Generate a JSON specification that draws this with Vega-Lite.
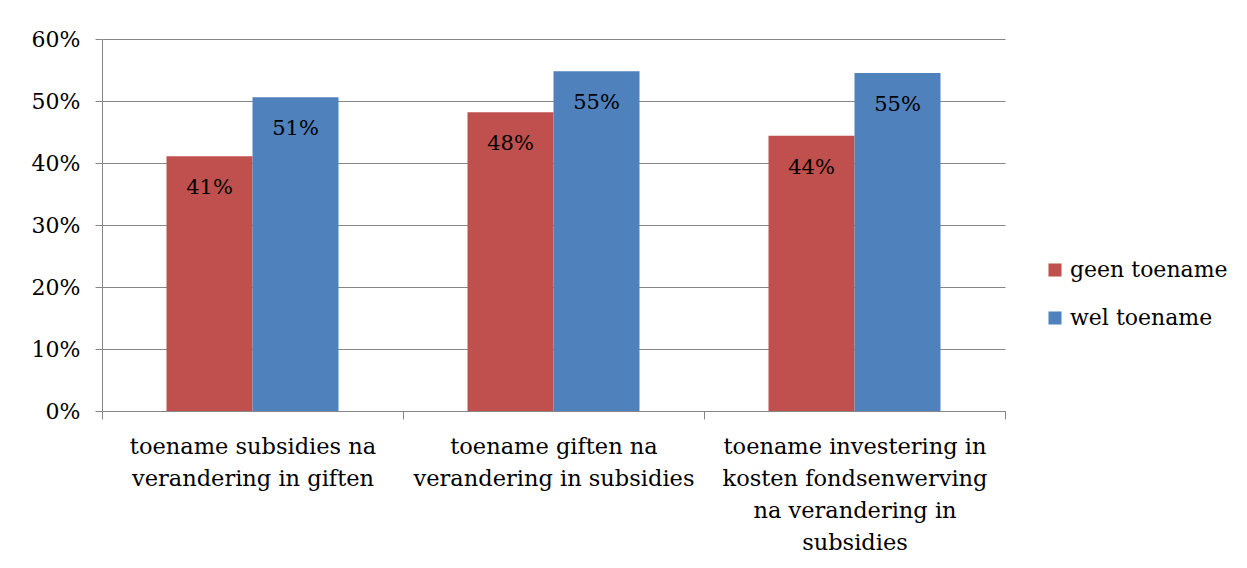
{
  "$schema": "https://vega.github.io/schema/vega-lite/v6.json",
  "width": 903,
  "height": 372,
  "autosize": {"type": "none"},
  "padding": {"left": 102, "top": 39, "right": 242, "bottom": 157},
  "background": "white",
  "config": {
    "view": {"stroke": null},
    "font": "DejaVu Serif"
  },
  "data": {
    "values": [
      {"category": "toename subsidies na|verandering in giften", "series": "geen toename", "value": 0.411},
      {"category": "toename subsidies na|verandering in giften", "series": "wel toename", "value": 0.506},
      {"category": "toename giften na|verandering in subsidies", "series": "geen toename", "value": 0.482},
      {"category": "toename giften na|verandering in subsidies", "series": "wel toename", "value": 0.548},
      {"category": "toename investering in|kosten fondsenwerving|na verandering in|subsidies", "series": "geen toename", "value": 0.444},
      {"category": "toename investering in|kosten fondsenwerving|na verandering in|subsidies", "series": "wel toename", "value": 0.545}
    ]
  },
  "encoding": {
    "x": {
      "field": "category", "type": "nominal", "sort": null,
      "scale": {"paddingInner": 0, "paddingOuter": 0},
      "axis": {
        "title": null, "labelAngle": 0,
        "labelExpr": "datum.value ? split(datum.value, '|') : ''",
        "labelFont": "DejaVu Serif", "labelFontSize": 22.5, "labelLineHeight": 32,
        "labelColor": "black", "labelLimit": 0,
        "labelBaseline": "top", "labelPadding": 16,
        "tickBand": "extent", "tickSize": 8, "tickColor": "#868686",
        "domainColor": "#868686", "grid": false
      }
    },
    "xOffset": {
      "field": "series", "sort": ["geen toename", "wel toename"],
      "scale": {"paddingInner": 0, "paddingOuter": 0.75}
    },
    "y": {
      "field": "value", "type": "quantitative",
      "scale": {"domain": [0, 0.6], "nice": false},
      "axis": {
        "title": null, "format": ".0%", "values": [0, 0.1, 0.2, 0.3, 0.4, 0.5, 0.6],
        "labelFont": "DejaVu Serif", "labelFontSize": 22, "labelColor": "black", "labelPadding": 15,
        "tickSize": 7, "tickColor": "#868686", "domainColor": "#868686",
        "gridColor": "#868686", "gridWidth": 1
      }
    }
  },
  "layer": [
    {
      "mark": {"type": "bar"},
      "encoding": {
        "color": {
          "field": "series", "type": "nominal",
          "scale": {"domain": ["geen toename", "wel toename"], "range": ["#C0504D", "#4F81BD"]},
          "legend": {
            "orient": "none", "legendX": 942, "legendY": 220, "title": null,
            "symbolType": "square", "symbolSize": 170, "symbolStrokeWidth": 0,
            "labelFont": "DejaVu Serif", "labelFontSize": 22, "labelColor": "black",
            "rowPadding": 26, "labelOffset": 4
          }
        }
      }
    },
    {
      "mark": {"type": "text", "baseline": "middle", "dy": 32, "fontSize": 21, "color": "black", "font": "DejaVu Serif"},
      "encoding": {"text": {"field": "value", "type": "quantitative", "format": ".0%"}}
    }
  ]
}
